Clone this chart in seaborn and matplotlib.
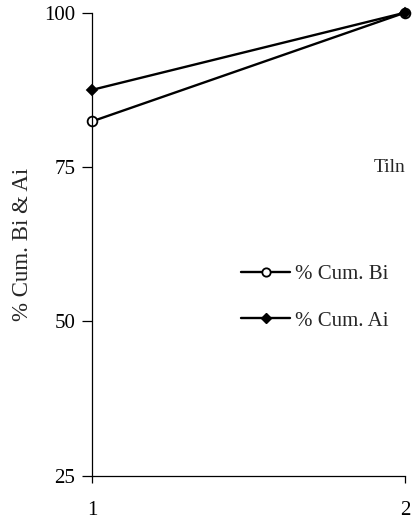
import matplotlib
matplotlib.use("Agg")
import matplotlib.pyplot as plt
import seaborn as sns
import pandas as pd
from matplotlib.lines import Line2D

# Cumulative percentages over the two stages
stages = [1, 2]
cum_bi = [82.4, 100.0]
cum_ai = [87.5, 100.0]
series_names = ["% Cum. Bi", "% Cum. Ai"]
y_ticks = [25, 50, 75, 100]
x_ticks = [1, 2]
panel_label = "Tiln"

sns.set_theme(style="ticks")
plt.rcParams["font.family"] = ["Liberation Serif", "DejaVu Serif"]

df = pd.DataFrame({
    "stage": stages * 2,
    "value": cum_bi + cum_ai,
    "series": [series_names[0]] * len(stages) + [series_names[1]] * len(stages),
})

fig = plt.figure(figsize=(4.15, 5.27), dpi=100)
ax = fig.add_axes([0.222, 0.097, 0.754, 0.879])

sns.lineplot(
    data=df, x="stage", y="value", hue="series", style="series",
    palette={series_names[0]: "black", series_names[1]: "black"},
    markers={series_names[0]: "o", series_names[1]: "D"},
    dashes=False, linewidth=1.7, ax=ax, legend=False,
    markeredgecolor="black", markeredgewidth=1.3, markersize=6,
)

# open circle for Bi, filled diamond for Ai
lines = ax.get_lines()
for ln in lines:
    ln.set_clip_on(False)
lines[0].set_markerfacecolor("white")
lines[0].set_markersize(7)
lines[1].set_markerfacecolor("black")
lines[1].set_markersize(5)

ax.set_xlim(1, 2)
ax.set_ylim(25, 100)
ax.set_xticks(x_ticks)
ax.set_yticks(y_ticks)
ax.set_xticklabels([str(v) for v in x_ticks])
ax.set_yticklabels([str(v) for v in y_ticks])
ax.set_xlabel("")
ax.set_ylabel("% Cum. Bi & Ai", fontsize=16.5, labelpad=8)

for s in ["top", "right"]:
    ax.spines[s].set_visible(False)
for s in ["left", "bottom"]:
    ax.spines[s].set_linewidth(0.9)
    ax.spines[s].set_color("black")

ax.tick_params(axis="y", direction="out", length=7, width=0.9, pad=5,
               labelsize=15, colors="black")
ax.tick_params(axis="x", direction="out", length=5, width=0.9, pad=13,
               labelsize=15, colors="black")

ax.text(2, 75, panel_label, ha="right", va="center", fontsize=14)

handles = [
    Line2D([], [], color="black", lw=1.7, marker="o", markersize=6,
           markerfacecolor="white", markeredgecolor="black", markeredgewidth=1.3),
    Line2D([], [], color="black", lw=1.7, marker="D", markersize=5,
           markerfacecolor="black", markeredgecolor="black"),
]
ax.legend(handles, series_names, loc="center left", bbox_to_anchor=(0.476, 0.385),
          frameon=False, fontsize=15, borderpad=0, borderaxespad=0,
          handlelength=2.35, handletextpad=0.25, labelspacing=1.3)

fig.savefig("out.png", dpi=100)
